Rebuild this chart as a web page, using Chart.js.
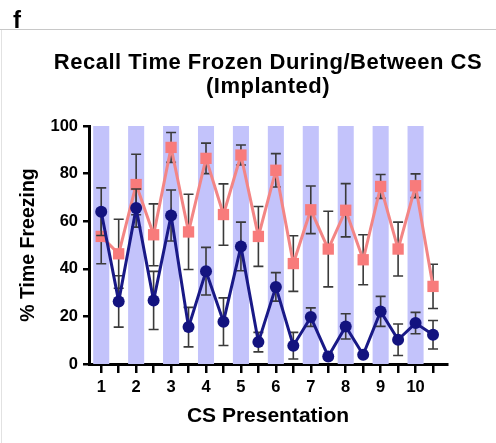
<!DOCTYPE html>
<html>
<head>
<meta charset="utf-8">
<script src="https://cdn.jsdelivr.net/npm/chart.js@4"></script>
<style>
  html, body { margin: 0; padding: 0; background: #fff; }
  #wrap { position: relative; width: 496px; height: 443px; overflow: hidden; font-family: "Liberation Sans", Arial, sans-serif; }
  #panel { position: absolute; left: 13px; top: 8px; font-weight: bold; font-size: 24px; line-height: 24px; color: #000; }
  #rule { position: absolute; left: 0; top: 29px; width: 496px; height: 1px; background: #c8c8c8; }
  #edge { position: absolute; left: 1px; top: 30px; width: 1px; height: 413px; background: #e2e2e2; }
  #title { position: absolute; left: 38px; top: 50px; width: 460px; text-align: center; font-weight: bold; font-size: 22px; line-height: 24px; letter-spacing: 0.5px; color: #000; }
  #chart { position: absolute; left: 0; top: 0; }
</style>
</head>
<body>
<div id="wrap">
  <canvas id="chart" width="496" height="443"></canvas>
  <div id="panel">f</div>
  <div id="rule"></div>
  <div id="edge"></div>
  <div id="title">Recall Time Frozen During/Between CS<br>(Implanted)</div>
</div>
<script>
// CS presentations (shaded) and the sampling points during/between them
const csPositions = [1, 2, 3, 4, 5, 6, 7, 8, 9, 10];
const timePoints = [1, 1.5, 2, 2.5, 3, 3.5, 4, 4.5, 5, 5.5, 6, 6.5, 7, 7.5, 8, 8.5, 9, 9.5, 10, 10.5];
const yTicks = [0, 20, 40, 60, 80, 100];

// group 1 (salmon squares)
const group1Mean = [53.6, 46.3, 75.4, 54.3, 91.0, 55.5, 86.4, 62.8, 87.8, 53.6,
                    81.4, 42.2, 64.8, 48.3, 64.6, 43.8, 74.6, 48.3, 74.9, 32.6];
const group1Sem  = [11.5, 14.5, 12.7, 13.0, 6.3, 15.8, 6.4, 12.9, 4.2, 12.6,
                    7.0, 11.7, 10.0, 15.9, 11.2, 10.5, 5.0, 11.3, 5.0, 9.3];

// group 2 (navy circles)
const group2Mean = [64.0, 26.3, 65.5, 26.7, 62.4, 15.5, 39.0, 17.8, 49.4, 9.2,
                    32.4, 7.7, 19.7, 3.2, 15.8, 3.9, 22.1, 10.2, 17.2, 12.3];
const group2Sem  = [10.0, 10.8, 8.0, 12.2, 10.7, 8.3, 10.0, 10.0, 10.2, 4.1,
                    6.0, 5.6, 3.9, 0.5, 5.3, 0.8, 6.3, 6.6, 4.5, 6.0];

const FONT = "'Liberation Sans', Arial, sans-serif";
const BAND_HALF = 0.23;

const toPoints = (ys) => ys.map((y, i) => ({ x: timePoints[i], y: y }));

// shaded CS bands behind everything
const bandPlugin = {
  id: "csBands",
  beforeDatasetsDraw(chart) {
    const { ctx, scales: { x, y } } = chart;
    ctx.save();
    ctx.fillStyle = "#c3c3fb";
    csPositions.forEach(cs => {
      const l = x.getPixelForValue(cs - BAND_HALF);
      const r = x.getPixelForValue(cs + BAND_HALF);
      const t = y.getPixelForValue(100);
      const b = y.getPixelForValue(0);
      ctx.fillRect(l, t, r - l, b - t);
    });
    ctx.restore();
  }
};

// SEM error bars, drawn just before each dataset's line and symbols
const errorBarPlugin = {
  id: "errorBars",
  beforeDatasetDraw(chart, args) {
    const ds = chart.data.datasets[args.index];
    if (!ds.sem) return;
    const { ctx, scales: { x, y } } = chart;
    ctx.save();
    ctx.strokeStyle = "#3a3a3a";
    ctx.lineWidth = 1.6;
    ds.data.forEach((p, i) => {
      const px = x.getPixelForValue(p.x);
      const top = y.getPixelForValue(p.y + ds.sem[i]);
      const bot = y.getPixelForValue(Math.max(0, p.y - ds.sem[i]));
      ctx.beginPath();
      ctx.moveTo(px, top); ctx.lineTo(px, bot);
      ctx.moveTo(px - 5, top); ctx.lineTo(px + 5, top);
      ctx.moveTo(px - 5, bot); ctx.lineTo(px + 5, bot);
      ctx.stroke();
    });
    ctx.restore();
  }
};

new Chart(document.getElementById("chart"), {
  type: "line",
  data: {
    datasets: [
      {
        label: "Group 1",
        data: toPoints(group1Mean),
        sem: group1Sem,
        borderColor: "#f38585",
        backgroundColor: "#f87b7b",
        borderWidth: 3,
        pointStyle: "rect",
        pointRadius: 8,
        pointBorderWidth: 0,
        order: 1
      },
      {
        label: "Group 2",
        data: toPoints(group2Mean),
        sem: group2Sem,
        borderColor: "#191987",
        backgroundColor: "#13137f",
        borderWidth: 3,
        pointStyle: "circle",
        pointRadius: 6,
        pointBorderWidth: 0,
        order: 0
      }
    ]
  },
  options: {
    responsive: false,
    animation: false,
    layout: { padding: { top: 126, right: 49, left: 0, bottom: 0 } },
    plugins: {
      legend: { display: false },
      tooltip: { enabled: false }
    },
    scales: {
      x: {
        type: "linear",
        min: 0.65,
        max: 10.9,
        afterFit(scale) { scale.height = 79; },
        afterBuildTicks(scale) { scale.ticks = timePoints.map(v => ({ value: v })); },
        border: { display: true, color: "#000", width: 3 },
        grid: { drawOnChartArea: false, drawTicks: true, tickLength: 9, color: "#000", lineWidth: 2.5 },
        ticks: {
          color: "#000",
          padding: 5,
          maxRotation: 0,
          autoSkip: false,
          font: { family: FONT, size: 16.5, weight: "bold" },
          callback: (v) => Number.isInteger(v) ? String(v) : ""
        },
        title: {
          display: true,
          text: "CS Presentation",
          color: "#000",
          padding: { top: 0, bottom: 14 },
          font: { family: FONT, size: 21, weight: "bold" }
        }
      },
      y: {
        min: 0,
        max: 100,
        afterFit(scale) { scale.width = 89; },
        afterBuildTicks(scale) { scale.ticks = yTicks.map(v => ({ value: v })); },
        border: { display: true, color: "#000", width: 3 },
        grid: { drawOnChartArea: false, drawTicks: true, tickLength: 6, color: "#000", lineWidth: 2.5 },
        ticks: {
          color: "#000",
          padding: 5,
          font: { family: FONT, size: 16.5, weight: "bold" }
        },
        title: {
          display: true,
          text: "% Time Freezing",
          color: "#000",
          padding: { top: 17, bottom: 0 },
          font: { family: FONT, size: 19.5, weight: "bold" }
        }
      }
    }
  },
  plugins: [bandPlugin, errorBarPlugin]
});
</script>
</body>
</html>
